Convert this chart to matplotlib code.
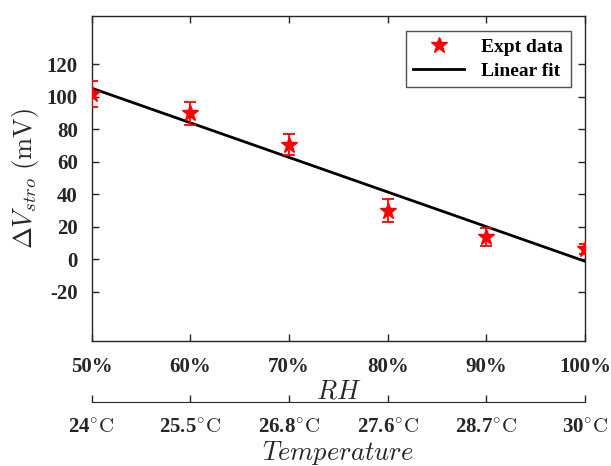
import numpy as np
import matplotlib
matplotlib.use("Agg")
import matplotlib.pyplot as plt
from matplotlib.lines import Line2D

plt.rcParams["font.family"] = ["Liberation Serif", "DejaVu Serif"]
plt.rcParams["font.weight"] = "bold"
plt.rcParams["mathtext.fontset"] = "cm"
plt.rcParams["axes.unicode_minus"] = False

# Measured data
rh = [50, 60, 70, 80, 90, 100]
dv = [102, 90, 70.5, 30, 14, 6.5]
dv_err = [8, 7, 6.5, 7, 5.5, 3]
rh_labels = ["50%", "60%", "70%", "80%", "90%", "100%"]
temp_labels = ["24$^{\\circ}\\mathrm{C}$", "25.5$^{\\circ}\\mathrm{C}$",
               "26.8$^{\\circ}\\mathrm{C}$", "27.6$^{\\circ}\\mathrm{C}$",
               "28.7$^{\\circ}\\mathrm{C}$", "30$^{\\circ}\\mathrm{C}$"]
y_ticks = [-20, 0, 20, 40, 60, 80, 100, 120]

ink = "#262626"

fig = plt.figure(figsize=(6.11, 4.66), dpi=100)
left, width = 0.1498, 0.8077
ax = fig.add_axes([left, 0.2689, width, 0.6974])

ax.errorbar(rh, dv, yerr=dv_err, fmt="none", ecolor="red",
            capsize=4.3, elinewidth=1.3, capthick=1.3, zorder=3)
ax.plot(rh, dv, "*", color="red", markersize=12, zorder=4)

coef = np.polyfit(rh, dv, 1)
xf = np.array([rh[0], rh[-1]])
ax.plot(xf, np.polyval(coef, xf), color="black", lw=2, zorder=2)

ax.set_xlim(50, 100)
ax.set_ylim(-50, 150)
ax.set_xticks(rh)
ax.set_xticklabels(rh_labels)
ax.set_yticks(y_ticks)
ax.tick_params(direction="in", top=True, right=True, length=5, width=1,
               colors=ink, labelsize=15, labelcolor=ink)
ax.tick_params(axis="x", pad=12)
ax.tick_params(axis="y", pad=10)
for lab in ax.get_xticklabels() + ax.get_yticklabels():
    lab.set_fontweight("bold")
for s in ax.spines.values():
    s.set_color(ink)
    s.set_linewidth(1)

ax.set_xlabel(r"$RH$", fontsize=19, color=ink, labelpad=2)
ax.set_ylabel(r"$\Delta V_{stro}\ \mathrm{(mV)}$", fontsize=19, color=ink,
              labelpad=4)

handles = [
    Line2D([], [], linestyle="none", marker="*", color="red", markersize=12),
    Line2D([], [], color="black", lw=2),
]
leg = ax.legend(handles, ["Expt data", "Linear fit"], loc="upper right",
                fontsize=14, frameon=True, fancybox=False, edgecolor=ink,
                handlelength=2.6, borderpad=0.4, labelspacing=0.3,
                handletextpad=0.9, borderaxespad=0,
                bbox_to_anchor=(0.9716, 0.9538))
leg.get_frame().set_linewidth(1)
for t in leg.get_texts():
    t.set_fontweight("bold")

# Temperature scale beneath the RH axis
ax2 = fig.add_axes([left, 0.1373, width, 0.0001])
ax2.set_xlim(50, 100)
ax2.set_ylim(0, 1)
ax2.set_xticks(rh)
ax2.set_xticklabels(temp_labels)
ax2.set_yticks([])
for side in ("top", "left", "right"):
    ax2.spines[side].set_visible(False)
ax2.spines["bottom"].set_color(ink)
ax2.patch.set_visible(False)
ax2.tick_params(axis="x", direction="in", length=5, width=1, colors=ink,
                labelsize=15, labelcolor=ink, pad=12)
for lab in ax2.get_xticklabels():
    lab.set_fontweight("bold")
ax2.set_xlabel(r"$Temperature$", fontsize=19, color=ink, labelpad=0.5)

fig.savefig("out.png", dpi=100)
